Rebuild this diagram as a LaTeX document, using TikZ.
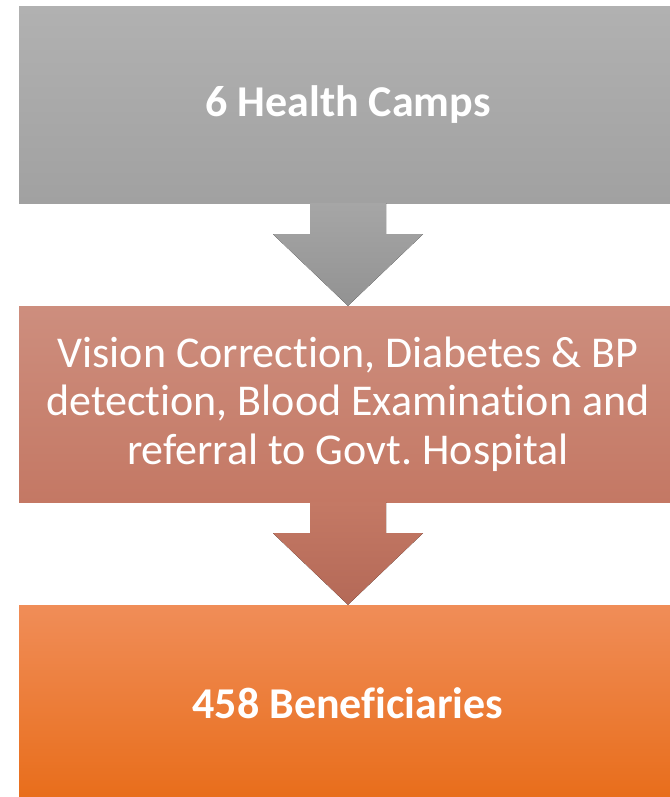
\documentclass[tikz,border=0pt]{standalone}
\usepackage{fontspec}
\setmainfont{Carlito}[Ligatures={NoCommon}]
\usetikzlibrary{calc}

\definecolor{campstop}{HTML}{B1B1B1}
\definecolor{campsbot}{HTML}{A1A1A1}
\definecolor{arrowAtop}{HTML}{A6A6A6}
\definecolor{arrowAbot}{HTML}{929292}
\definecolor{checktop}{HTML}{CD8E7E}
\definecolor{checkbot}{HTML}{C47864}
\definecolor{arrowBtop}{HTML}{C47965}
\definecolor{arrowBbot}{HTML}{B46957}
\definecolor{benetop}{HTML}{F08D58}
\definecolor{benemid}{HTML}{F47F34}
\definecolor{benebot}{HTML}{E86D1A}

\tikzset{
    stage/.style={minimum width=658pt, minimum height=196pt, inner sep=0pt,
        text=white, align=center, font=\fontsize{44}{48.5}\selectfont},
    bold stage/.style={stage, font=\fontsize{44}{48.5}\selectfont\bfseries},
}

\begin{document}
\begin{tikzpicture}[x=1pt, y=1pt]
    \useasboundingbox (0,0) rectangle (669,-797);

    \node[bold stage, top color=campstop, bottom color=campsbot] (camps) at (348,-105) {6 Health Camps};
    \node[stage, top color=checktop, bottom color=checkbot] (checkup) at (348,-404)
        {Vision Correction, Diabetes \& BP\\detection, Blood Examination and\\referral to Govt.\ Hospital};
    \node[bold stage, top color=benetop, middle color=benemid, bottom color=benebot] (benef) at (348,-703) {458 Beneficiaries};

    % block arrows between the stages
    \fill[top color=arrowAtop, bottom color=arrowAbot]
        ($(camps.south)+(-38,0)$) -- ($(camps.south)+(38,0)$) -- ($(camps.south)+(38,-31)$)
        -- ($(camps.south)+(75,-31)$) -- (checkup.north)
        -- ($(camps.south)+(-75,-31)$) -- ($(camps.south)+(-38,-31)$) -- cycle;
    \fill[top color=arrowBtop, bottom color=arrowBbot]
        ($(checkup.south)+(-38,0)$) -- ($(checkup.south)+(38,0)$) -- ($(checkup.south)+(38,-31)$)
        -- ($(checkup.south)+(75,-31)$) -- (benef.north)
        -- ($(checkup.south)+(-75,-31)$) -- ($(checkup.south)+(-38,-31)$) -- cycle;
\end{tikzpicture}
\end{document}
